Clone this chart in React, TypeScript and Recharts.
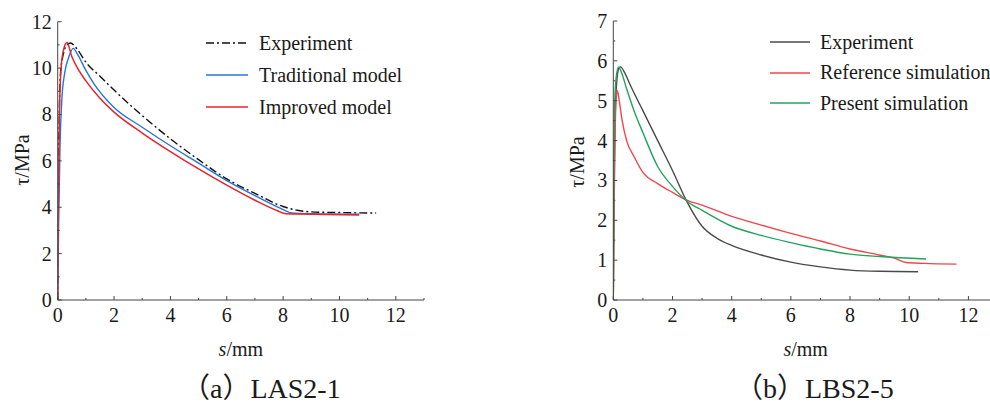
import React from "react";
import { LineChart, Line, XAxis, YAxis, Legend, Label } from "recharts";

// (a) LAS2-1 — slip s (mm) vs bond stress τ (MPa)
const lasExpS = [0, 0.02, 0.05, 0.1, 0.2, 0.3, 0.45, 0.7, 1, 1.5, 2, 3, 4, 5, 6, 7, 8, 8.5, 9, 10, 11.3];
const lasExpT = [0, 3.5, 7.5, 9.8, 10.6, 10.95, 11.08, 10.8, 10.25, 9.65, 9.05, 7.95, 6.95, 6.05, 5.22, 4.6, 4.03, 3.87, 3.8, 3.77, 3.75];
const lasTradS = [0, 0.03, 0.08, 0.15, 0.25, 0.4, 0.55, 0.7, 1, 1.3, 2, 3, 4, 5, 6, 7, 8, 8.3, 9, 10.7];
const lasTradT = [0, 3, 6.5, 8.7, 9.8, 10.5, 10.85, 10.6, 9.9, 9.3, 8.3, 7.45, 6.65, 5.9, 5.15, 4.5, 3.9, 3.75, 3.72, 3.7];
const lasImpS = [0, 0.02, 0.06, 0.12, 0.22, 0.33, 0.5, 0.75, 1, 1.5, 2, 3, 4, 5, 6, 7, 7.8, 8.1, 9, 10.7];
const lasImpT = [0, 4, 8, 10, 10.85, 11.1, 10.5, 9.9, 9.45, 8.7, 8.1, 7.2, 6.4, 5.65, 4.95, 4.3, 3.85, 3.72, 3.7, 3.67];

// (b) LBS2-5
const lbsExpS = [0, 0.03, 0.07, 0.12, 0.18, 0.25, 0.35, 0.6, 1, 1.5, 2, 2.5, 3, 3.5, 4, 5, 6, 7, 8, 9, 10.3];
const lbsExpT = [0, 3, 4.8, 5.5, 5.8, 5.85, 5.75, 5.35, 4.75, 4.0, 3.25, 2.45, 1.85, 1.55, 1.37, 1.13, 0.95, 0.83, 0.75, 0.72, 0.71];
const lbsRefS = [0, 0.03, 0.07, 0.11, 0.14, 0.2, 0.3, 0.45, 0.7, 1, 1.5, 2, 2.5, 3, 4, 5, 6, 7, 8, 9, 9.5, 9.9, 10.5, 11.6];
const lbsRefT = [0, 2.5, 4.5, 5.15, 5.25, 5.0, 4.5, 4.0, 3.6, 3.2, 2.92, 2.7, 2.5, 2.38, 2.1, 1.88, 1.67, 1.48, 1.28, 1.13, 1.05, 0.94, 0.92, 0.9];
const lbsPreS = [0, 0.02, 0.05, 0.1, 0.18, 0.28, 0.45, 0.7, 1, 1.5, 2, 2.5, 3, 4, 5, 6, 7, 8, 9, 10.57];
const lbsPreT = [0, 3.5, 5.0, 5.6, 5.85, 5.7, 5.3, 4.75, 4.2, 3.35, 2.85, 2.47, 2.25, 1.85, 1.62, 1.44, 1.28, 1.15, 1.09, 1.03];

const xTicks = [0, 1, 2, 3, 4, 5, 6, 7, 8, 9, 10, 11, 12, 13];
const lasYTicks = [0, 1, 2, 3, 4, 5, 6, 7, 8, 9, 10, 11, 12];
const lbsYTicks = [0, 0.5, 1, 1.5, 2, 2.5, 3, 3.5, 4, 4.5, 5, 5.5, 6, 6.5, 7];

const toPoints = (s: number[], t: number[]) => s.map((v, i) => ({ s: v, t: t[i] }));

const FONT = "'Liberation Serif', 'Times New Roman', serif";
const AXIS = "#444";
const TXT = "#1a1a1a";

// ticks drawn inward, labels only on major values
const XTick = (props: any) => {
  const { x, y, payload } = props;
  const v = payload.value;
  const axisY = y - 8;
  const major = v % 2 === 0;
  return (
    <g>
      <line x1={x} x2={x} y1={axisY} y2={axisY - (major ? 4 : 2)} stroke={AXIS} />
      {major && v <= 12 && (
        <text x={x} y={y} dy="0.71em" textAnchor="middle" fontFamily={FONT} fontSize={20} fill={TXT}>
          {v}
        </text>
      )}
    </g>
  );
};

const makeYTick = (step: number) => (props: any) => {
  const { x, y, payload } = props;
  const v = payload.value;
  const axisX = x + 6;
  const major = Math.abs(v / step - Math.round(v / step)) < 1e-6;
  return (
    <g>
      <line x1={axisX} x2={axisX + (major ? 4 : 2)} y1={y} y2={y} stroke={AXIS} />
      {major && (
        <text x={x} y={y} dy="0.35em" textAnchor="end" fontFamily={FONT} fontSize={20} fill={TXT}>
          {v}
        </text>
      )}
    </g>
  );
};

const XTitle = (props: any) => {
  const { viewBox } = props;
  const cx = viewBox.x + viewBox.width / 2;
  return (
    <text x={cx} y={viewBox.y + 56} textAnchor="middle" fontFamily={FONT} fontSize={20} fill={TXT}>
      <tspan fontStyle="italic">s</tspan>/mm
    </text>
  );
};

const makeYTitle = (cy: number) => (props: any) => {
  const { viewBox } = props;
  const cx = viewBox.x + 14;
  return (
    <text
      x={cx}
      y={cy}
      transform={`rotate(-90 ${cx} ${cy})`}
      dy="0.35em"
      textAnchor="middle"
      fontFamily={FONT}
      fontSize={20}
      fill={TXT}
    >
      τ/MPa
    </text>
  );
};

type Item = { name: string; color: string; dash?: string };

const legendBox = (items: Item[], lineW: number, gap: number, rowH: number) => () => (
  <div style={{ fontFamily: FONT, fontSize: 20, color: TXT }}>
    {items.map((it) => (
      <div key={it.name} style={{ display: "flex", alignItems: "center", height: rowH, whiteSpace: "nowrap" }}>
        <svg width={lineW} height={4} style={{ marginRight: gap }}>
          <line x1={0} x2={lineW} y1={2} y2={2} stroke={it.color} strokeWidth={1.4} strokeDasharray={it.dash} />
        </svg>
        <span>{it.name}</span>
      </div>
    ))}
  </div>
);

const lasItems: Item[] = [
  { name: "Experiment", color: "#111", dash: "8 3 2 3" },
  { name: "Traditional model", color: "#2476d8" },
  { name: "Improved model", color: "#e8232b" },
];
const lbsItems: Item[] = [
  { name: "Experiment", color: "#4a4a4a" },
  { name: "Reference simulation", color: "#f0464b" },
  { name: "Present simulation", color: "#22a35d" },
];

const captionStyle: React.CSSProperties = {
  position: "absolute",
  top: 366,
  fontFamily: "'Liberation Serif', 'Noto Sans CJK SC', serif",
  fontSize: 28,
  color: TXT,
  whiteSpace: "nowrap",
};

export default function App() {
  return (
    <div
      style={{
        position: "absolute",
        left: 0,
        top: 0,
        width: 990,
        height: 403,
        overflow: "hidden",
        background: "#fff",
      }}
    >
      <div style={{ position: "absolute", left: 0, top: 0 }}>
        <LineChart width={440} height={403} margin={{ top: 21.7, right: 16, bottom: 73, left: 7.7 }}>
          <XAxis
            dataKey="s"
            type="number"
            domain={[0, 13]}
            ticks={xTicks}
            interval={0}
            tickSize={0}
            tickMargin={8}
            tickLine={false}
            axisLine={{ stroke: AXIS }}
            tick={XTick}
            allowDataOverflow
          >
            <Label content={XTitle} />
          </XAxis>
          <YAxis
            dataKey="t"
            type="number"
            domain={[0, 12]}
            ticks={lasYTicks}
            interval={0}
            width={50}
            tickSize={0}
            tickMargin={6}
            tickLine={false}
            axisLine={{ stroke: AXIS }}
            tick={makeYTick(2)}
          >
            <Label content={makeYTitle(160)} />
          </YAxis>
          <Legend
            verticalAlign="middle"
            layout="horizontal"
            content={legendBox(lasItems, 42, 11, 32)}
            wrapperStyle={{ left: 206, top: 27, width: 230, height: 100 }}
          />
          <Line data={toPoints(lasExpS, lasExpT)} dataKey="t" type="monotone" stroke="#111" strokeWidth={1.4} strokeDasharray="8 3 2 3" dot={false} isAnimationActive={false} />
          <Line data={toPoints(lasTradS, lasTradT)} dataKey="t" type="monotone" stroke="#2476d8" strokeWidth={1.4} dot={false} isAnimationActive={false} />
          <Line data={toPoints(lasImpS, lasImpT)} dataKey="t" type="monotone" stroke="#e8232b" strokeWidth={1.5} dot={false} isAnimationActive={false} />
        </LineChart>
      </div>

      <div style={{ position: "absolute", left: 500, top: 0 }}>
        <LineChart width={510} height={403} margin={{ top: 21, right: 12, bottom: 73, left: 63.3 }}>
          <XAxis
            dataKey="s"
            type="number"
            domain={[0, 13]}
            ticks={xTicks}
            interval={0}
            tickSize={0}
            tickMargin={8}
            tickLine={false}
            axisLine={{ stroke: AXIS }}
            tick={XTick}
            allowDataOverflow
          >
            <Label content={XTitle} />
          </XAxis>
          <YAxis
            dataKey="t"
            type="number"
            domain={[0, 7]}
            ticks={lbsYTicks}
            interval={0}
            width={50}
            tickSize={0}
            tickMargin={6}
            tickLine={false}
            axisLine={{ stroke: AXIS }}
            tick={makeYTick(1)}
          >
            <Label content={makeYTitle(162)} />
          </YAxis>
          <Legend
            verticalAlign="middle"
            layout="horizontal"
            content={legendBox(lbsItems, 40, 10, 30.5)}
            wrapperStyle={{ left: 270, top: 27, width: 240, height: 100 }}
          />
          <Line data={toPoints(lbsExpS, lbsExpT)} dataKey="t" type="monotone" stroke="#4a4a4a" strokeWidth={1.4} dot={false} isAnimationActive={false} />
          <Line data={toPoints(lbsRefS, lbsRefT)} dataKey="t" type="monotone" stroke="#f0464b" strokeWidth={1.4} dot={false} isAnimationActive={false} />
          <Line data={toPoints(lbsPreS, lbsPreT)} dataKey="t" type="monotone" stroke="#22a35d" strokeWidth={1.4} dot={false} isAnimationActive={false} />
        </LineChart>
      </div>

      <div style={{ ...captionStyle, left: 182 }}>（a）LAS2-1</div>
      <div style={{ ...captionStyle, left: 735 }}>（b）LBS2-5</div>
    </div>
  );
}
